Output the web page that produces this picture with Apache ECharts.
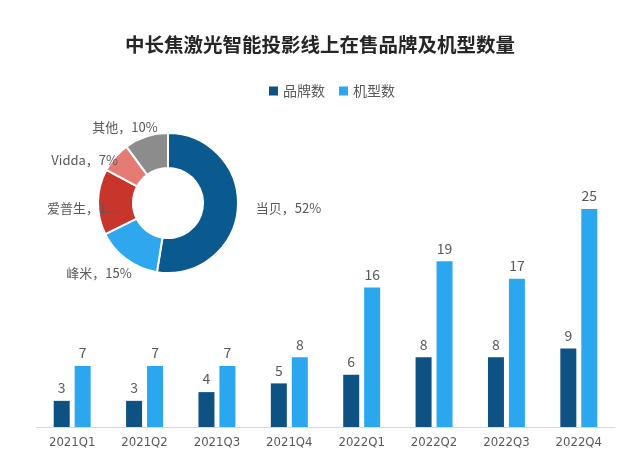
<!DOCTYPE html>
<html>
<head>
<meta charset="utf-8">
<script src="https://cdn.jsdelivr.net/npm/echarts@6/dist/echarts.min.js"></script>
<style>html,body{margin:0;padding:0;background:#fff}#c{width:640px;height:464px}</style>
</head>
<body>
<div id="c"></div>
<script>
var categories = ['2021Q1','2021Q2','2021Q3','2021Q4','2022Q1','2022Q2','2022Q3','2022Q4'];
var brandCounts = [3, 3, 4, 5, 6, 8, 8, 9];
var modelCounts = [7, 7, 7, 8, 16, 19, 17, 25];
var pieNames = ['当贝', '峰米', '爱普生', 'Vidda', '其他'];
var pieValues = [52, 15, 15, 7, 10];
var pieColors = ['#0B5A8F', '#2EA7EF', '#C7352B', '#E57B72', '#8C8C8C'];

var font = '"Noto Sans CJK SC", "Noto Sans", sans-serif';
var labelNudges = [[5, -1], [15, 7], [32, 6], [14, 8], [19, -2]];
var chart = echarts.init(document.getElementById('c'));
chart.setOption({
  backgroundColor: '#fff',
  animation: false,
  textStyle: { fontFamily: font },
  title: {
    text: '中长焦激光智能投影线上在售品牌及机型数量',
    left: 'center', top: 30,
    textStyle: { fontSize: 19.5, fontWeight: 'bold', color: '#262626', fontFamily: font }
  },
  legend: {
    data: ['品牌数', '机型数'],
    top: 79, left: 264,
    itemWidth: 9, itemHeight: 9, itemGap: 14,
    icon: 'rect',
    textStyle: { fontSize: 14, color: '#595959', fontFamily: font }
  },
  grid: { left: 36, right: 25, top: 165.4, bottom: 37 },
  xAxis: {
    type: 'category',
    data: categories,
    axisLine: { lineStyle: { color: '#D9D9D9' } },
    axisTick: { show: false },
    axisLabel: { fontSize: 13, color: '#595959', margin: 9, fontFamily: '"DejaVu Sans Condensed", "Liberation Sans Narrow", sans-serif' }
  },
  yAxis: { type: 'value', min: 0, max: 30, show: false, splitLine: { show: false } },
  series: [
    {
      name: '品牌数', type: 'bar', data: brandCounts,
      barWidth: 16, barGap: '31%',
      itemStyle: { color: '#0E5183' },
      label: { show: true, position: 'top', distance: 6, fontSize: 14, color: '#595959' }
    },
    {
      name: '机型数', type: 'bar', data: modelCounts,
      barWidth: 16,
      itemStyle: { color: '#2BA7EF' },
      label: { show: true, position: 'top', distance: 6, fontSize: 14, color: '#595959' }
    },
    {
      type: 'pie',
      center: [168, 203],
      radius: [35, 70],
      startAngle: 90,
      clockwise: true,
      data: pieNames.map(function (n, i) { return { name: n, value: pieValues[i], itemStyle: { color: pieColors[i] } }; }),
      itemStyle: { borderColor: '#fff', borderWidth: 2 },
      label: { show: true, position: 'outside', formatter: '{b}，{c}%', fontSize: 13, color: '#595959' },
      labelLine: { show: false, length: 8, length2: 0 },
      labelLayout: function (p) {
        var n = labelNudges[p.dataIndex] || [0, 0];
        return { dx: n[0], dy: n[1] };
      },
      emphasis: { disabled: true }
    }
  ]
});
</script>
</body>
</html>
